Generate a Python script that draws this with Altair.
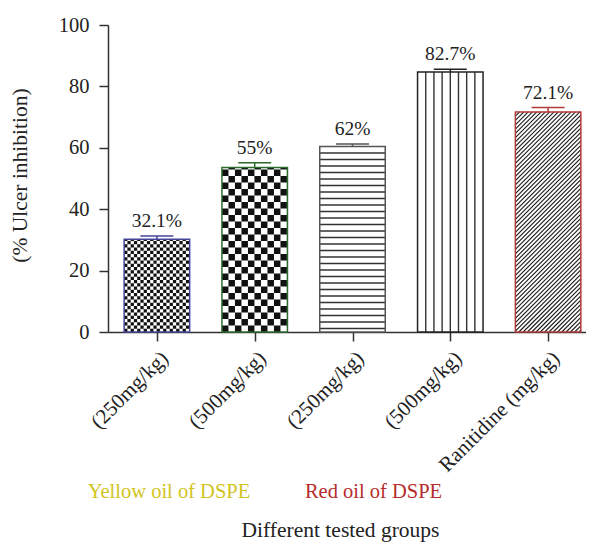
import json
import math
import altair as alt
import pandas as pd

# ---------------- data ----------------
categories = ["Y250", "Y500", "R250", "R500", "RAN"]
tick_labels = ["(250mg/kg)", "(500mg/kg)", "(250mg/kg)", "(500mg/kg)", "Ranitidine (mg/kg)"]
values = [30.2, 53.6, 60.4, 84.7, 71.7]
errors = [1.1, 1.5, 0.8, 0.9, 1.4]
value_labels = ["32.1%", "55%", "62%", "82.7%", "72.1%"]
patterns = ["checker_fine", "checker_coarse", "hstripes", "vstripes", "hatch"]
outline_colors = ["#45459c", "#2f6b2f", "#555555", "#222222", "#b33a3a"]

# ---------------- geometry / style ----------------
W, H = 478, 307
PX_X = 97.8                 # pixels per category step
XMAX = W / PX_X
PX_Y = H / 100.0
BAR_PX = 65.5
CAP_PX = 33.0
FONT = "Liberation Serif"

half_bar = BAR_PX / 2 / PX_X
half_cap = CAP_PX / 2 / PX_X

bars = pd.DataFrame({
    "cat": categories,
    "cx": [i + 0.5 for i in range(len(categories))],
    "value": values,
    "err": errors,
    "label": value_labels,
    "stroke": outline_colors,
})
bars["xl"] = bars["cx"] - half_bar
bars["xr"] = bars["cx"] + half_bar
bars["y0"] = 0.0
bars["top"] = bars["value"] + bars["err"]
bars["cl"] = bars["cx"] - half_cap
bars["cr"] = bars["cx"] + half_cap

# pattern pieces derived from each bar's extent
cells = []
lines = []
for i, (v, pat) in enumerate(zip(values, patterns)):
    left = i + 0.5 - half_bar
    wpx, hpx = BAR_PX, v * PX_Y
    tx = lambda p: left + p / PX_X
    ty = lambda p: p / PX_Y
    if pat.startswith("checker"):
        c = 3.25 if pat == "checker_fine" else 6.5
        nx, ny = math.ceil(wpx / c), math.ceil(hpx / c)
        for a in range(nx):
            for b in range(ny):
                if (a + b) % 2 == 0:
                    cells.append({"x": tx(a * c), "x2": tx(min((a + 1) * c, wpx)),
                                  "y": ty(b * c), "y2": ty(min((b + 1) * c, hpx))})
    elif pat == "hstripes":
        s = 6.5
        k = 1
        while k * s < hpx - 2:
            lines.append({"x": tx(0), "x2": tx(wpx), "y": ty(hpx - k * s), "y2": ty(hpx - k * s),
                          "color": "#333333", "sw": 1.4})
            k += 1
    elif pat == "vstripes":
        for k in range(1, 8):
            lines.append({"x": tx(k * wpx / 8), "x2": tx(k * wpx / 8), "y": 0.0, "y2": ty(hpx),
                          "color": "#333333", "sw": 1.4})
    elif pat == "hatch":
        s = 4.3
        c = -hpx
        while c < wpx:
            t0, t1 = max(0.0, -c), min(hpx, wpx - c)
            if t1 > t0:
                lines.append({"x": tx(c + t0), "x2": tx(c + t1), "y": ty(t0), "y2": ty(t1),
                              "color": "#1a1a1a", "sw": 1.1})
            c += s

cells_df = pd.DataFrame(cells)
lines_df = pd.DataFrame(lines)

label_expr = json.dumps(tick_labels) + "[floor(datum.value)]"

x_axis = alt.Axis(values=[i + 0.5 for i in range(len(categories))], labelExpr=label_expr,
                  labelAngle=-45, labelAlign="right", labelBaseline="top", labelPadding=6,
                  tickSize=9, grid=False, title="Different tested groups", titleFont=FONT,
                  titleFontSize=21.5, titleFontWeight="normal", titleColor="#222222",
                  titleY=204, titleX=232, titleBaseline="alphabetic",
                  labelFont=FONT, labelFontSize=21, labelColor="#222222",
                  domainColor="#333333", tickColor="#333333", domainWidth=1.5, tickWidth=1.5,
                  labelOverlap=False, labelBound=False, labelFlush=False)
y_axis = alt.Axis(values=[0, 20, 40, 60, 80, 100], tickSize=9, labelPadding=10, grid=False,
                  title="(% Ulcer inhibition)", titleFont=FONT, titleFontSize=21.5,
                  titleFontWeight="normal", titleColor="#222222", titleX=-88, titleY=150,
                  titleBaseline="middle", titleAngle=270,
                  labelFont=FONT, labelFontSize=20.5, labelColor="#222222",
                  domainColor="#333333", tickColor="#333333", domainWidth=1.5, tickWidth=1.5)

xs = alt.Scale(domain=[0, XMAX], nice=False, zero=False)
ys = alt.Scale(domain=[0, 100], nice=False)


def X(f):
    return alt.X(f, scale=xs, axis=x_axis)


def Y(f):
    return alt.Y(f, scale=ys, axis=y_axis)


base_bars = alt.Chart(bars).mark_rect(fill="white", stroke=None).encode(
    x=X("xl:Q"), x2="xr:Q", y=Y("value:Q"), y2="y0:Q",
)

cell_layer = alt.Chart(cells_df).mark_rect(fill="#111111", stroke=None).encode(
    x=X("x:Q"), x2="x2:Q", y=Y("y:Q"), y2="y2:Q",
)

line_layer = alt.Chart(lines_df).mark_rule().encode(
    x=X("x:Q"), x2="x2:Q", y=Y("y:Q"), y2="y2:Q",
    color=alt.Color("color:N", scale=None),
    strokeWidth=alt.StrokeWidth("sw:Q", scale=None),
)

outline = alt.Chart(bars).mark_rect(fill=None, strokeWidth=1.5).encode(
    x=X("xl:Q"), x2="xr:Q", y=Y("value:Q"), y2="y0:Q",
    stroke=alt.Stroke("stroke:N", scale=None),
)

stems = alt.Chart(bars).mark_rule(strokeWidth=1.5).encode(
    x=X("cx:Q"), y=Y("value:Q"), y2="top:Q",
    color=alt.Color("stroke:N", scale=None),
)

caps = alt.Chart(bars).mark_rule(strokeWidth=1.5).encode(
    x=X("cl:Q"), x2="cr:Q", y=Y("top:Q"),
    color=alt.Color("stroke:N", scale=None),
)

texts = alt.Chart(bars).mark_text(font=FONT, fontSize=19.5, color="#222222", baseline="alphabetic",
                                  dy=-9).encode(
    x=X("cx:Q"), y=Y("top:Q"), text="label:N",
)

yellow = alt.Chart(pd.DataFrame({"t": ["Yellow oil of DSPE"]})).mark_text(
    font=FONT, fontSize=20.5, color="#d2c41e", baseline="middle", align="center").encode(
    x=alt.value(61), y=alt.value(467), text="t:N")
red = alt.Chart(pd.DataFrame({"t": ["Red oil of DSPE"]})).mark_text(
    font=FONT, fontSize=20.5, color="#b52c2c", baseline="middle", align="center").encode(
    x=alt.value(265.5), y=alt.value(467), text="t:N")

chart = alt.layer(base_bars, cell_layer, line_layer, outline, stems, caps, texts, yellow, red).properties(
    width=W, height=H,
    autosize=alt.AutoSizeParams(type="none"),
    padding={"left": 100, "top": 17, "right": 0, "bottom": 214},
    background="white",
).configure_view(stroke=None)

chart.save("out.html", embed_options={"renderer": "svg", "actions": False})
